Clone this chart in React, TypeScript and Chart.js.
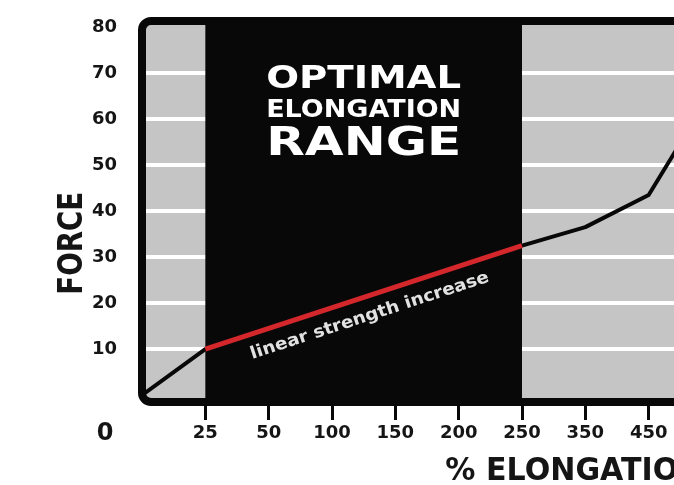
import React, { useEffect, useRef } from "react";
import { Chart, registerables } from "chart.js";

Chart.register(...registerables);

// ---- data ----
const elongationLabels = ["0", "25", "50", "100", "150", "200", "250", "350", "450"];
const forceTicks = [10, 20, 30, 40, 50, 60, 70, 80];
// force curve, x = position index of the elongation label
const curveIndex = [0, 1, 6, 7, 8, 9];
const curveForce = [0, 10, 32.5, 36.5, 43.5, 66];
// linear (optimal) segment
const linearIndex = [1, 6];
const linearForce = [10, 32.5];
// optimal range (label indices)
const optimalRange = [1, 6];

const FONT = '"DejaVu Sans", sans-serif';
const GRAY = "#c5c5c5";
const BLACK = "#080808";
const RED = "#d3272c";

function fitText(
  ctx: CanvasRenderingContext2D,
  text: string,
  x: number,
  y: number,
  fontPx: number,
  targetW: number,
  align: CanvasTextAlign,
  color: string,
  weight = "bold",
  measure?: string
) {
  ctx.save();
  ctx.font = `${weight} ${fontPx}px ${FONT}`;
  const w = ctx.measureText(measure ?? text).width;
  const sx = targetW / w;
  ctx.translate(x, y);
  ctx.scale(sx, 1);
  ctx.textAlign = align;
  ctx.textBaseline = "alphabetic";
  ctx.fillStyle = color;
  ctx.fillText(text, 0, 0);
  ctx.restore();
}

const decorPlugin = {
  id: "decor",
  beforeDraw(chart: any) {
    const { ctx, chartArea: a } = chart;
    ctx.save();
    ctx.fillStyle = GRAY;
    ctx.fillRect(a.left, a.top, a.right - a.left, a.bottom - a.top);
    ctx.restore();
  },
  beforeDatasetsDraw(chart: any) {
    const { ctx, chartArea: a, scales } = chart;
    const x0 = scales.x.getPixelForValue(optimalRange[0]);
    const x1 = scales.x.getPixelForValue(optimalRange[1]);
    ctx.save();
    ctx.fillStyle = BLACK;
    ctx.fillRect(x0, a.top, x1 - x0, a.bottom - a.top);
    ctx.restore();
  },
  afterDatasetsDraw(chart: any) {
    const { ctx, chartArea: a, scales } = chart;
    const xs = scales.x;
    const ys = scales.y;
    // border (top, left, bottom) with rounded left corners
    const r = 9;
    ctx.save();
    ctx.strokeStyle = BLACK;
    ctx.lineWidth = 8;
    ctx.lineJoin = "round";
    ctx.beginPath();
    ctx.moveTo(a.right + 20, a.top);
    ctx.lineTo(a.left + r, a.top);
    ctx.arcTo(a.left, a.top, a.left, a.top + r, r);
    ctx.lineTo(a.left, a.bottom - r);
    ctx.arcTo(a.left, a.bottom, a.left + r, a.bottom, r);
    ctx.lineTo(a.right + 20, a.bottom);
    ctx.stroke();
    ctx.restore();

    // OPTIMAL ELONGATION RANGE
    const cx = (xs.getPixelForValue(optimalRange[0]) + xs.getPixelForValue(optimalRange[1])) / 2;
    const tw = 195;
    fitText(ctx, "OPTIMAL", cx, ys.getPixelForValue(66.7), 31.5, tw, "center", "#ffffff");
    fitText(ctx, "ELONGATION", cx, ys.getPixelForValue(60.4), 24.7, tw, "center", "#ffffff");
    fitText(ctx, "RANGE", cx, ys.getPixelForValue(52.2), 39.7, tw, "center", "#ffffff");

    // linear strength increase
    const px0 = xs.getPixelForValue(linearIndex[0]);
    const py0 = ys.getPixelForValue(linearForce[0]);
    const px1 = xs.getPixelForValue(linearIndex[1]);
    const py1 = ys.getPixelForValue(linearForce[1]);
    const ang = Math.atan2(py1 - py0, px1 - px0);
    ctx.save();
    ctx.translate((px0 + px1) / 2, (py0 + py1) / 2);
    ctx.rotate(ang);
    fitText(ctx, "linear strength increase", 0, 24, 17, 250, "center", "#e2e2e2", "bold");
    ctx.restore();
  },
  afterDraw(chart: any) {
    const { ctx, chartArea: a, scales } = chart;
    // big 0 at the origin
    ctx.save();
    ctx.font = `bold 24px ${FONT}`;
    ctx.fillStyle = "#151515";
    ctx.textAlign = "center";
    ctx.textBaseline = "alphabetic";
    ctx.fillText("0", a.left - 37, a.bottom + 38);
    ctx.restore();

    // FORCE (y title)
    ctx.save();
    ctx.translate(a.left - 72.5, scales.y.getPixelForValue(33));
    ctx.rotate(-Math.PI / 2);
    fitText(ctx, "FORCE", 0, 12.5, 34, 103, "center", "#151515");
    ctx.restore();

    // % ELONGATION (x title)
    fitText(
      ctx,
      "% ELONGATION",
      scales.x.getPixelForValue(4.79),
      a.bottom + 78,
      31.5,
      233,
      "left",
      "#151515",
      "bold",
      "% ELONGATIO"
    );
  },
};

export default function App() {
  const ref = useRef<HTMLCanvasElement | null>(null);

  useEffect(() => {
    document.body.style.margin = "0";
    document.body.style.overflow = "hidden";
    document.body.style.background = "#ffffff";
    const canvas = ref.current;
    if (!canvas) return;
    const tickFont = { family: FONT, size: 18, weight: "bold" as const };
    const chart = new Chart(canvas, {
      type: "line",
      data: {
        datasets: [
          {
            data: linearIndex.map((x, i) => ({ x, y: linearForce[i] })),
            borderColor: RED,
            borderWidth: 5,
            pointRadius: 0,
            tension: 0,
            order: 0,
          },
          {
            data: curveIndex.map((x, i) => ({ x, y: curveForce[i] })),
            borderColor: BLACK,
            borderWidth: 4,
            pointRadius: 0,
            tension: 0,
            borderJoinStyle: "round",
            order: 1,
          },
        ],
      },
      options: {
        animation: false,
        responsive: false,
        maintainAspectRatio: false,
        devicePixelRatio: 1,
        layout: { padding: { top: 21, right: 0, left: 0, bottom: 0 } },
        plugins: { legend: { display: false }, tooltip: { enabled: false } },
        scales: {
          x: {
            type: "linear",
            min: 0,
            max: 8.4,
            afterBuildTicks: (s: any) => {
              s.ticks = elongationLabels.map((_, i) => ({ value: i }));
            },
            afterFit: (s: any) => {
              s.height = 83;
              s.paddingLeft = 0;
              s.paddingRight = 0;
              s.paddingTop = 0;
              s.paddingBottom = 0;
            },
            ticks: {
              autoSkip: false,
              maxRotation: 0,
              padding: 3,
              color: "#151515",
              font: tickFont,
              callback: (_v: any, i: number) => (i === 0 ? "" : elongationLabels[i]),
            },
            grid: {
              drawOnChartArea: false,
              drawTicks: true,
              tickLength: 18,
              tickWidth: 3,
              tickColor: (c: any) => (c.tick && c.tick.value === 0 ? "rgba(0,0,0,0)" : BLACK),
            },
            border: { display: false },
          },
          y: {
            type: "linear",
            min: -1.5,
            max: 81.3,
            afterBuildTicks: (s: any) => {
              s.ticks = forceTicks.map((v) => ({ value: v }));
            },
            afterFit: (s: any) => {
              s.width = 142;
              s.paddingLeft = 0;
              s.paddingRight = 0;
              s.paddingTop = 0;
              s.paddingBottom = 0;
            },
            ticks: {
              padding: 25,
              color: "#151515",
              font: tickFont,
            },
            grid: {
              drawTicks: false,
              lineWidth: 4,
              color: (c: any) => (c.tick && c.tick.value >= 80 ? "rgba(0,0,0,0)" : "#ffffff"),
            },
            border: { display: false },
          },
        },
      },
      plugins: [decorPlugin],
    });
    return () => chart.destroy();
  }, []);

  return (
    <div style={{ width: 674, height: 485, overflow: "hidden" }}>
      <canvas ref={ref} width={674} height={485} style={{ display: "block" }} />
    </div>
  );
}
